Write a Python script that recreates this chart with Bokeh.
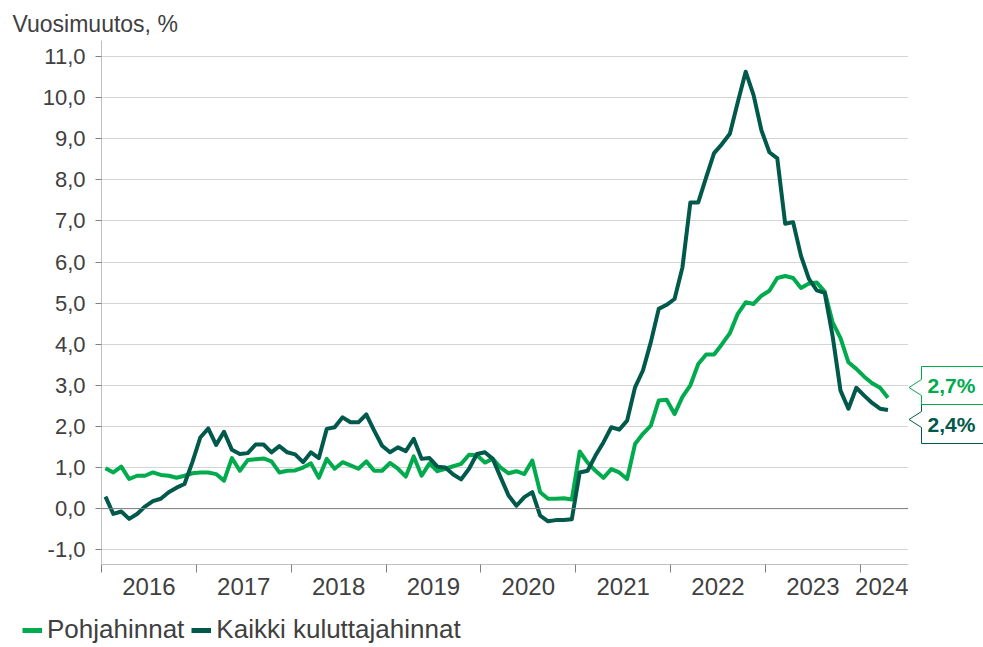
from bokeh.plotting import figure
from bokeh.layouts import row, column
from bokeh.models import FixedTicker, Span, Legend, LegendItem, Title
from bokeh.embed import file_html
from bokeh.resources import INLINE

# ---- data: monthly year-on-year change, Jan 2016 .. Apr 2024 ----
months = list(range(100))  # 0 = Jan 2016

pohjahinnat = [
    0.98, 0.88, 1.02, 0.72, 0.80, 0.80, 0.88, 0.82, 0.80, 0.75, 0.80, 0.86,
    0.88, 0.88, 0.84, 0.68, 1.23, 0.92, 1.18, 1.20, 1.22, 1.15, 0.88, 0.92,
    0.93, 1.00, 1.10, 0.75, 1.21, 0.97, 1.13, 1.05, 0.97, 1.15, 0.92, 0.92,
    1.11, 0.97, 0.78, 1.27, 0.80, 1.10, 0.91, 0.97, 1.03, 1.09, 1.31, 1.30,
    1.12, 1.21, 1.00, 0.86, 0.91, 0.84, 1.17, 0.40, 0.24, 0.24, 0.25, 0.22,
    1.39, 1.12, 0.92, 0.75, 0.96, 0.88, 0.72, 1.57, 1.82, 2.02, 2.63, 2.65,
    2.30, 2.72, 3.00, 3.52, 3.75, 3.75, 4.00, 4.27, 4.74, 5.02, 4.98, 5.18,
    5.30, 5.61, 5.66, 5.61, 5.37, 5.48, 5.50, 5.28, 4.53, 4.15, 3.56, 3.40,
    3.21, 3.05, 2.94, 2.70,
]

kaikki = [
    0.29, -0.13, -0.07, -0.25, -0.13, 0.05, 0.18, 0.24, 0.40, 0.51, 0.60, 1.13,
    1.73, 1.95, 1.55, 1.87, 1.43, 1.33, 1.35, 1.56, 1.56, 1.37, 1.52, 1.37,
    1.32, 1.13, 1.37, 1.23, 1.94, 1.98, 2.22, 2.10, 2.10, 2.29, 1.90, 1.53,
    1.37, 1.49, 1.40, 1.70, 1.21, 1.23, 1.02, 1.00, 0.83, 0.71, 0.97, 1.33,
    1.37, 1.21, 0.76, 0.32, 0.07, 0.28, 0.40, -0.17, -0.31, -0.28, -0.28, -0.26,
    0.88, 0.92, 1.29, 1.61, 1.98, 1.92, 2.14, 2.95, 3.36, 4.05, 4.86, 4.96,
    5.10, 5.87, 7.45, 7.45, 8.06, 8.65, 8.87, 9.12, 9.89, 10.63, 10.06, 9.20,
    8.67, 8.52, 6.93, 6.97, 6.15, 5.59, 5.31, 5.25, 4.20, 2.87, 2.43, 2.94,
    2.75, 2.57, 2.43, 2.40,
]

years = ["2016", "2017", "2018", "2019", "2020", "2021", "2022", "2023", "2024"]
y_ticks = [-1, 0, 1, 2, 3, 4, 5, 6, 7, 8, 9, 10, 11]
y_tick_labels = ["-1,0", "0,0", "1,0", "2,0", "3,0", "4,0", "5,0", "6,0",
                 "7,0", "8,0", "9,0", "10,0", "11,0"]
series_names = ["Pohjahinnat", "Kaikki kuluttajahinnat"]
axis_title = "Vuosimuutos, %"

# ---- style ----
LIGHT = "#00ab4e"
DARK = "#00594a"
TXT = "#404040"
FONT = "Liberation Sans"
LW = 4

X0, X1 = -0.5, 101.6
Y0, Y1 = -1.36, 11.39
FW, FH = 807, 524
ML, MT, MB = 101, 40, 45
SIDE_W = 75
TOTAL_W, LEG_H = 983, 38

p = figure(frame_width=FW, frame_height=FH, x_range=(X0, X1), y_range=(Y0, Y1),
           output_backend="svg", toolbar_location=None,
           min_border_left=ML, min_border_right=0, min_border_top=MT,
           min_border_bottom=MB, outline_line_color=None,
           background_fill_color="white", border_fill_color="white")

def px_y(py):  # pixel y (from top of chart) -> data y
    return Y1 - (py - MT) * (Y1 - Y0) / FH

# x axis: year boundaries as minor ticks, labels at year centres
bounds = [X0 + 12 * k for k in range(9)]
mids = [b + 6 for b in bounds[:-1]] + [(bounds[-1] + X1) / 2]
p.xaxis.ticker = FixedTicker(ticks=mids, minor_ticks=bounds)
p.xaxis.major_label_overrides = {m: y for m, y in zip(mids, years)}
p.xaxis.major_tick_out = 0
p.xaxis.major_tick_in = 0
p.xaxis.minor_tick_out = 8
p.xaxis.minor_tick_in = 0
p.xaxis.minor_tick_line_color = "#808080"
p.xaxis.axis_line_color = "#bfbfbf"
p.xaxis.major_label_standoff = 5
p.xaxis.major_label_text_font = FONT
p.xaxis.major_label_text_font_size = "24px"
p.xaxis.major_label_text_color = TXT
p.xgrid.visible = False

p.yaxis.ticker = FixedTicker(ticks=y_ticks)
p.yaxis.major_label_overrides = {t: l for t, l in zip(y_ticks, y_tick_labels)}
p.yaxis.major_tick_out = 6
p.yaxis.major_tick_in = 0
p.yaxis.minor_tick_line_color = None
p.yaxis.major_tick_line_color = "#808080"
p.yaxis.axis_line_color = "#bfbfbf"
p.yaxis.major_label_standoff = 10
p.yaxis.major_label_text_font = FONT
p.yaxis.major_label_text_font_size = "22px"
p.yaxis.major_label_text_color = TXT
p.ygrid.grid_line_color = "#d4d4d4"
p.ygrid.grid_line_width = 1

p.add_layout(Span(location=0, dimension="width", line_color="#7f7f7f", line_width=1))

p.line(months, pohjahinnat, line_color=LIGHT, line_width=LW, line_join="round")
p.line(months, kaikki, line_color=DARK, line_width=LW, line_join="round")

# axis title above the frame, shifted to the left edge
p.add_layout(Title(text=axis_title, align="left", offset=-89, standoff=7,
                   text_font=FONT, text_font_size="23px", text_font_style="normal",
                   text_color=TXT), "above")

# ---- side panel with end-value callouts (shares the y scale) ----
q = figure(frame_width=SIDE_W, frame_height=FH, x_range=(0, SIDE_W), y_range=p.y_range,
           output_backend="svg", toolbar_location=None,
           x_axis_location=None, y_axis_location=None,
           min_border_left=0, min_border_right=0, min_border_top=MT,
           min_border_bottom=MB, outline_line_color=None,
           background_fill_color="white", border_fill_color="white")
q.grid.visible = False

def fmt(v):
    return f"{v:.1f}".replace(".", ",") + "%"

def callout(top, bottom, tip, color, txt):
    xl, xr, xt = 13, SIDE_W + 10, 0.5
    xs = [xl, xr, xr, xl, xl, xt, xl]
    ys = [px_y(top), px_y(top), px_y(bottom), px_y(bottom),
          px_y(tip + 8), px_y(tip), px_y(tip - 8)]
    q.patch(xs, ys, fill_color="white", line_color=color, line_width=1)
    q.text(x=[43], y=[px_y((top + bottom) / 2)], text=[txt],
           text_font={"value": FONT}, text_font_size="21px", text_font_style="bold",
           text_color=color, text_align="center", text_baseline="middle")

callout(404, 443, 419, DARK, fmt(kaikki[-1]))
callout(366, 404, 387, LIGHT, fmt(pohjahinnat[-1]))

# ---- legend strip under the chart (series drawn off-view, only swatches show) ----
leg = figure(width=TOTAL_W, height=LEG_H, x_range=(1000, 1001), y_range=(0, 1),
             output_backend="svg", toolbar_location=None,
             x_axis_location=None, y_axis_location=None, min_border=0,
             outline_line_color=None, background_fill_color="white",
             border_fill_color="white")
leg.grid.visible = False
k1 = leg.line(months, pohjahinnat, line_color=LIGHT, line_width=5)
k2 = leg.line(months, kaikki, line_color=DARK, line_width=5)
legend = Legend(items=[LegendItem(label=series_names[0], renderers=[k1]),
                       LegendItem(label=series_names[1], renderers=[k2])],
                location=(22, 2), orientation="horizontal",
                label_text_font=FONT, label_text_font_size="26px",
                label_text_color=TXT, glyph_width=20, glyph_height=20,
                label_standoff=5, spacing=7, padding=0, margin=0,
                border_line_color=None, background_fill_alpha=0)
leg.add_layout(legend)

layout = column(row(p, q, spacing=0), leg, spacing=0)
open("out.html", "w").write(file_html(layout, INLINE))
